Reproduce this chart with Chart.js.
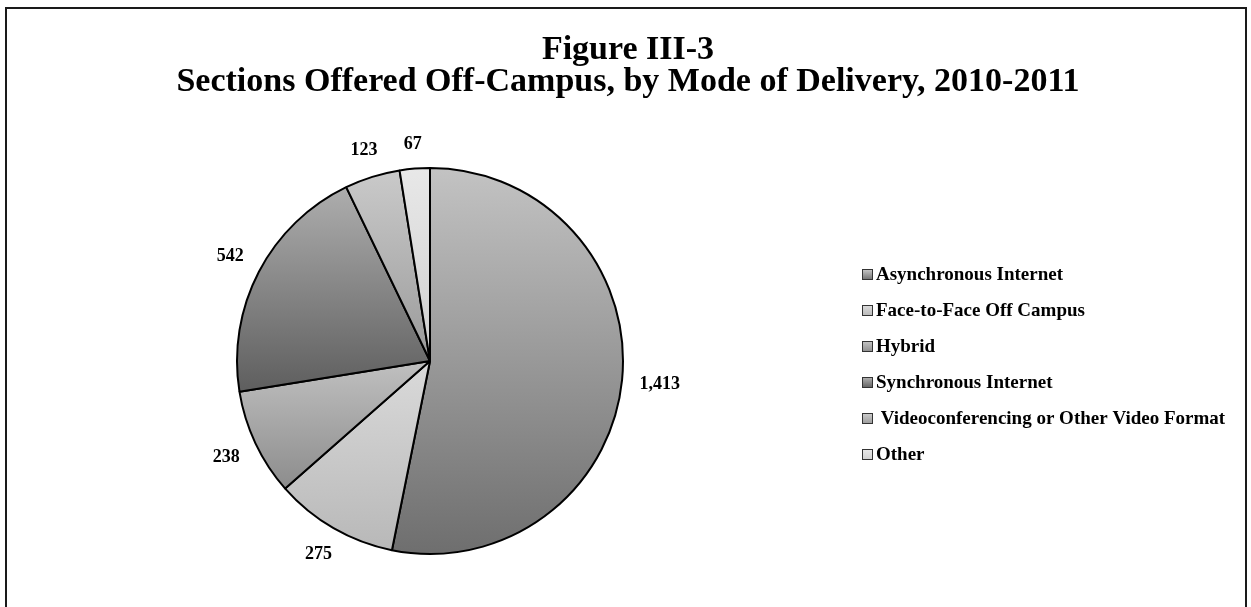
<!DOCTYPE html>
<html>
<head>
<meta charset="utf-8">
<script src="https://cdn.jsdelivr.net/npm/chart.js@4/dist/chart.umd.min.js"></script>
<style>
  html, body { margin: 0; padding: 0; background: #fff; }
  #wrap { width: 1251px; height: 607px; }
</style>
</head>
<body>
<div id="wrap"><canvas id="c" width="1251" height="607"></canvas></div>
<script>
// data
const titleLines = ['Figure III-3', 'Sections Offered Off-Campus, by Mode of Delivery, 2010-2011'];
const modes = ['Asynchronous Internet', 'Face-to-Face Off Campus', 'Hybrid',
  'Synchronous Internet', 'Videoconferencing or Other Video Format', 'Other'];
const sections = [1413, 275, 238, 542, 123, 67];
const sectionLabels = ['1,413', '275', '238', '542', '123', '67'];

// grey shades, top -> bottom of each slice
const shadeTop = ['#c3c3c3', '#dadada', '#c0c0c0', '#aeaeae', '#cacaca', '#e8e8e8'];
const shadeBottom = ['#6e6e6e', '#b8b8b8', '#8c8c8c', '#5e5e5e', '#9a9a9a', '#d0d0d0'];

const SERIF = '"Liberation Serif", "Times New Roman", serif';

// vertical extent of slice i, so each slice gets its own gradient
function sliceSpan(chart, i) {
  const a = chart.chartArea;
  const cy = (a.top + a.bottom) / 2;
  const r = Math.min(a.right - a.left, a.bottom - a.top) / 2;
  const total = sections.reduce((s, v) => s + v, 0);
  let start = -Math.PI / 2;
  for (let k = 0; k < i; k++) start += sections[k] / total * Math.PI * 2;
  const end = start + sections[i] / total * Math.PI * 2;
  let ys = [cy, cy + r * Math.sin(start), cy + r * Math.sin(end)];
  for (const t of [Math.PI / 2, Math.PI * 1.5, -Math.PI / 2]) {
    if (t > start && t < end) ys.push(cy + r * Math.sin(t));
  }
  return [Math.min(...ys), Math.max(...ys)];
}

function sliceFill(ctx) {
  const chart = ctx.chart;
  const i = ctx.dataIndex;
  if (!chart.chartArea || i === undefined) return shadeTop[i || 0];
  const [y0, y1] = sliceSpan(chart, i);
  const g = chart.ctx.createLinearGradient(0, y0, 0, y1);
  g.addColorStop(0, shadeTop[i]);
  g.addColorStop(1, shadeBottom[i]);
  return g;
}

const decorations = {
  id: 'decorations',
  beforeDraw(chart) {
    const {ctx, width, height} = chart;
    ctx.save();
    ctx.fillStyle = '#fff';
    ctx.fillRect(0, 0, width, height);
    // frame
    ctx.strokeStyle = '#1a1a1a';
    ctx.lineWidth = 2;
    ctx.beginPath();
    ctx.moveTo(6, height);
    ctx.lineTo(6, 8);
    ctx.lineTo(1246, 8);
    ctx.lineTo(1246, height);
    ctx.stroke();
    // title
    ctx.fillStyle = '#000';
    ctx.textAlign = 'center';
    ctx.textBaseline = 'alphabetic';
    ctx.font = 'bold 34px ' + SERIF;
    ctx.fillText(titleLines[0], 628, 59);
    ctx.fillText(titleLines[1], 628, 91);
    ctx.restore();
  },
  afterDraw(chart) {
    const {ctx} = chart;
    const meta = chart.getDatasetMeta(0);
    ctx.save();
    ctx.fillStyle = '#000';
    ctx.font = 'bold 18px ' + SERIF;
    ctx.textBaseline = 'middle';
    ctx.textAlign = 'center';
    // value labels outside each slice
    meta.data.forEach((arc, i) => {
      const p = arc.getProps(['x', 'y', 'startAngle', 'endAngle', 'outerRadius'], true);
      const mid = (p.startAngle + p.endAngle) / 2;
      const hw = ctx.measureText(sectionLabels[i]).width / 2, hh = 7;
      const d = p.outerRadius + 17 + Math.abs(Math.cos(mid)) * hw + Math.abs(Math.sin(mid)) * hh;
      ctx.fillText(sectionLabels[i], p.x + Math.cos(mid) * d, p.y + Math.sin(mid) * d);
    });
    // legend
    ctx.textAlign = 'left';
    ctx.font = 'bold 19px ' + SERIF;
    modes.forEach((m, i) => {
      const y = 275 + i * 36;
      const g = ctx.createLinearGradient(0, y - 5, 0, y + 5);
      g.addColorStop(0, shadeTop[i]);
      g.addColorStop(1, shadeBottom[i]);
      ctx.fillStyle = g;
      ctx.fillRect(862, y - 6, 11, 11);
      ctx.strokeStyle = '#333';
      ctx.lineWidth = 1;
      ctx.strokeRect(862.5, y - 5.5, 10, 10);
      ctx.fillStyle = '#000';
      ctx.fillText(i === 4 ? ' ' + m : m, 876, y);
    });
    ctx.restore();
  }
};

new Chart(document.getElementById('c'), {
  type: 'pie',
  data: {
    labels: modes,
    datasets: [{
      data: sections,
      backgroundColor: sliceFill,
      borderColor: '#000',
      borderWidth: 2
    }]
  },
  options: {
    responsive: false,
    animation: false,
    layout: { padding: { left: 236, top: 167, right: 627, bottom: 52 } },
    plugins: { legend: { display: false }, tooltip: { enabled: false }, title: { display: false } }
  },
  plugins: [decorations]
});
</script>
</body>
</html>
